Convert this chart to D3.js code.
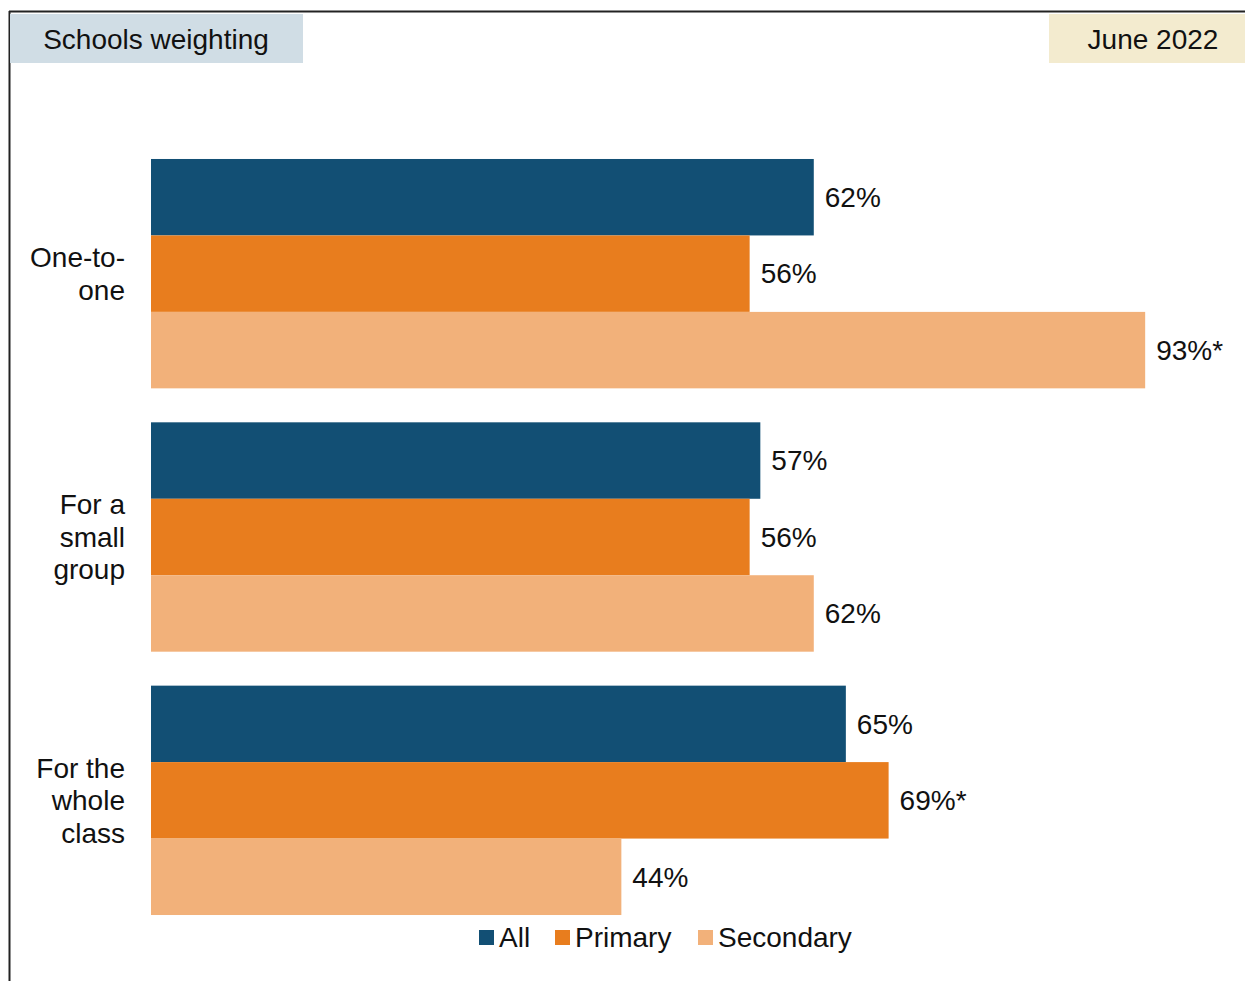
<!DOCTYPE html>
<html>
<head>
<meta charset="utf-8">
<script src="https://cdn.jsdelivr.net/npm/d3@7"></script>
<style>
  html, body { margin: 0; padding: 0; background: #fff; }
  svg { display: block; font-family: "Liberation Sans", Arial, sans-serif; }
</style>
</head>
<body>
<svg id="chart" width="1245" height="981"></svg>
<script>
// Categories and series
const categories = [["One-to-", "one"], ["For a", "small", "group"], ["For the", "whole", "class"]];
const series = ["All", "Primary", "Secondary"];
const colors = ["#124f74", "#e87d1e", "#f2b17a"];
const allValues = [62, 57, 65];
const primaryValues = [56, 56, 69];
const secondaryValues = [93, 62, 44];
const valueLabels = [
  ["62%", "56%", "93%*"],
  ["57%", "56%", "62%"],
  ["65%", "69%*", "44%"]
];

const FS = 28;
const svg = d3.select("#chart");

// Frame lines (top and left)
svg.append("line").attr("x1", 9).attr("x2", 1245).attr("y1", 11.5).attr("y2", 11.5)
  .attr("stroke", "#222").attr("stroke-width", 2);
svg.append("line").attr("x1", 9.5).attr("x2", 9.5).attr("y1", 11).attr("y2", 981)
  .attr("stroke", "#222").attr("stroke-width", 2);

// Header boxes
svg.append("rect").attr("x", 10).attr("y", 14).attr("width", 293).attr("height", 49).attr("fill", "#d0dde5");
svg.append("text").attr("x", 156).attr("y", 49).attr("text-anchor", "middle")
  .attr("font-size", FS).attr("fill", "#111").text("Schools weighting");
svg.append("rect").attr("x", 1049).attr("y", 14).attr("width", 196).attr("height", 49).attr("fill", "#f3ebcf");
svg.append("text").attr("x", 1153).attr("y", 49).attr("text-anchor", "middle")
  .attr("font-size", FS).attr("fill", "#111").text("June 2022");

// Scales
const x = d3.scaleLinear().domain([0, 100]).range([151, 1220]);
const y0 = d3.scaleBand().domain(d3.range(categories.length)).range([142, 932])
  .paddingInner(0.129).paddingOuter(0.0645);
const y1 = d3.scaleBand().domain(series).range([0, y0.bandwidth()]);

const rows = categories.map((c, i) => ({
  label: c,
  values: [allValues[i], primaryValues[i], secondaryValues[i]]
}));

const g = svg.append("g");
const groups = g.selectAll("g.grp").data(rows).join("g")
  .attr("class", "grp")
  .attr("transform", (d, i) => `translate(0,${y0(i)})`);

groups.selectAll("rect").data(d => d.values).join("rect")
  .attr("x", x(0))
  .attr("y", (d, j) => y1(series[j]))
  .attr("width", d => x(d) - x(0))
  .attr("height", y1.bandwidth())
  .attr("fill", (d, j) => colors[j]);

groups.selectAll("text.val").data((d, i) => d.values.map((v, j) => ({ v, t: valueLabels[i][j], j })))
  .join("text").attr("class", "val")
  .attr("x", d => x(d.v) + 11)
  .attr("y", d => y1(series[d.j]) + y1.bandwidth() / 2)
  .attr("dy", "0.35em")
  .attr("font-size", FS).attr("fill", "#111")
  .text(d => d.t);

// Category labels (multi-line, right aligned)
groups.each(function (d) {
  const lh = 32.5;
  const n = d.label.length;
  const cy = y0.bandwidth() / 2;
  const t = d3.select(this).append("text")
    .attr("text-anchor", "end").attr("font-size", FS).attr("fill", "#111");
  d.label.forEach((line, k) => {
    t.append("tspan").attr("x", 125)
      .attr("y", cy + (k - (n - 1) / 2) * lh)
      .attr("dy", "0.35em").text(line);
  });
});

// Legend
const legendItems = [{ x: 479 }, { x: 555 }, { x: 698 }];
const legend = svg.append("g");
legendItems.forEach((it, j) => {
  legend.append("rect").attr("x", it.x).attr("y", 930).attr("width", 15).attr("height", 15).attr("fill", colors[j]);
  legend.append("text").attr("x", it.x + 20).attr("y", 947)
    .attr("font-size", FS).attr("fill", "#111").text(series[j]);
});
</script>
</body>
</html>
